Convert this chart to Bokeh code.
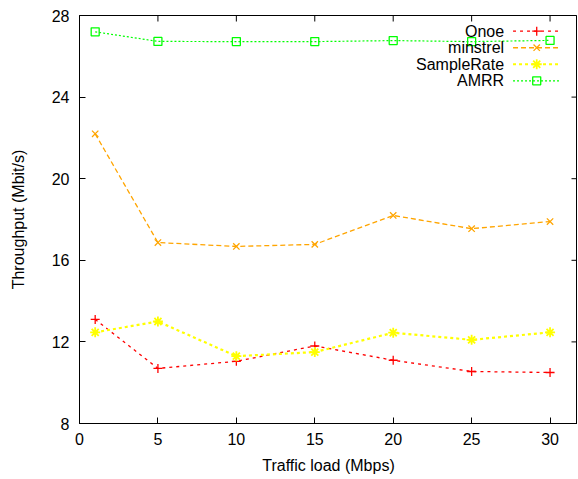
from bokeh.plotting import figure
from bokeh.models import Range1d, FixedTicker
from bokeh.core.properties import value
from bokeh.embed import file_html
from bokeh.resources import INLINE

# ---- data ----
load = [1, 5, 10, 15, 20, 25, 30]
onoe = [13.1, 10.7, 11.05, 11.8, 11.1, 10.55, 10.5]
minstrel = [22.2, 16.87, 16.68, 16.78, 18.2, 17.55, 17.9]
samplerate = [12.47, 13.0, 11.3, 11.5, 12.45, 12.1, 12.47]
amrr = [27.2, 26.73, 26.72, 26.72, 26.77, 26.72, 26.78]

names = ["Onoe", "minstrel", "SampleRate", "AMRR"]
x_ticks = [0, 5, 10, 15, 20, 25, 30]
y_ticks = [8, 12, 16, 20, 24, 28]

FONT = "Liberation Sans"
FS = "16px"
X0, X1 = 0, 31.75
Y0, Y1 = 8, 28
FW, FH = 498, 408

p = figure(frame_width=FW, frame_height=FH, output_backend="svg", toolbar_location=None,
           x_range=Range1d(X0, X1), y_range=Range1d(Y0, Y1),
           min_border_left=79, min_border_right=0, min_border_top=15, min_border_bottom=55)
p.xgrid.visible = False
p.ygrid.visible = False
p.outline_line_color = "black"
p.outline_line_width = 1
p.background_fill_color = "white"
p.border_fill_color = "white"

for ax in (p.xaxis[0], p.yaxis[0]):
    ax.major_tick_in = 6
    ax.major_tick_out = 0
    ax.minor_tick_in = 0
    ax.minor_tick_out = 0
    ax.axis_line_color = "black"
    ax.major_tick_line_color = "black"
    ax.major_label_text_font = FONT
    ax.major_label_text_font_size = FS
    ax.major_label_text_color = "black"
    ax.axis_label_text_font = FONT
    ax.axis_label_text_font_size = FS
    ax.axis_label_text_font_style = "normal"
    ax.axis_label_text_color = "black"

p.xaxis.ticker = FixedTicker(ticks=x_ticks)
p.yaxis.ticker = FixedTicker(ticks=y_ticks)
p.xaxis.axis_label = "Traffic load (Mbps)"
p.yaxis.axis_label = "Throughput (Mbit/s)"
p.xaxis.major_label_standoff = 9
p.xaxis.axis_label_standoff = 9
p.yaxis.major_label_standoff = 10
p.yaxis.axis_label_standoff = 22

# mirrored (inward) ticks on the right and top edges, 6 px long
tick_dx = 6 * (X1 - X0) / FW
tick_dy = 6 * (Y1 - Y0) / FH
p.segment(x0=[X1 - tick_dx] * len(y_ticks), y0=y_ticks, x1=[X1] * len(y_ticks), y1=y_ticks,
          line_color="black", line_width=1)
p.segment(x0=x_ticks, y0=[Y1 - tick_dy] * len(x_ticks), x1=x_ticks, y1=[Y1] * len(x_ticks),
          line_color="black", line_width=1)

styles = [
    dict(color="#ff0000", dash="3 4", width=1.3, marker="cross", size=9, mlw=1.3),
    dict(color="#ffa500", dash="5 3", width=1.3, marker="x", size=9, mlw=1.3),
    dict(color="#ffff00", dash="3 3", width=2.2, marker="asterisk", size=10, mlw=1.8),
    dict(color="#00ff00", dash="2 2", width=1.2, marker="square", size=8, mlw=1.3),
]
series = [onoe, minstrel, samplerate, amrr]

for ys, st in zip(series, styles):
    p.line(load, ys, line_color=st["color"], line_dash=st["dash"], line_width=st["width"])
    p.scatter(load, ys, marker=st["marker"], size=st["size"], line_color=st["color"],
              fill_color=None, line_width=st["mlw"])

# gnuplot-style key (text right, sample left) at top right
key_text_x = 27.07
key_x0, key_x1, key_xm = 27.64, 30.57, 29.15
key_y0, key_dy = 27.23, 0.81
for i, (nm, st) in enumerate(zip(names, styles)):
    yk = key_y0 - i * key_dy
    p.text(x=[key_text_x], y=[yk], text=[nm], text_align="right", text_baseline="middle",
           text_font=value(FONT), text_font_size=FS, text_color="black")
    p.line([key_x0, key_x1], [yk, yk], line_color=st["color"], line_dash=st["dash"],
           line_width=st["width"])
    p.scatter([key_xm], [yk], marker=st["marker"], size=st["size"], line_color=st["color"],
              fill_color=None, line_width=st["mlw"])

open("out.html", "w").write(file_html(p, INLINE))
